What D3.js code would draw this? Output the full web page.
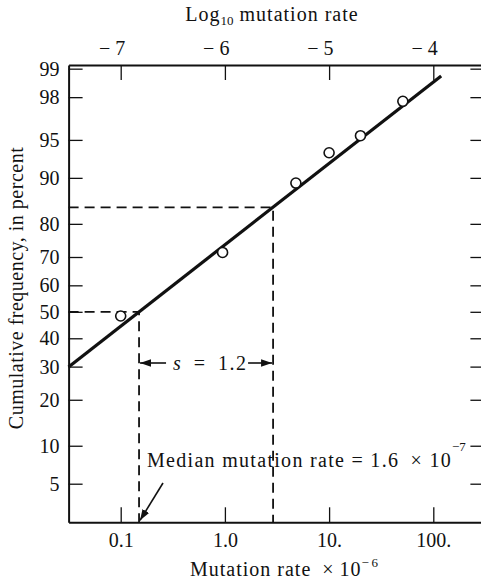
<!DOCTYPE html>
<html>
<head>
<meta charset="utf-8">
<script src="https://cdn.jsdelivr.net/npm/d3@7"></script>
<style>
  body { margin: 0; background: #fff; }
  svg text { font-family: "Liberation Serif", "DejaVu Serif", serif; fill: #111; }
  .axis path, .axis line { stroke: #111; }
</style>
</head>
<body>
<svg id="svg" width="481" height="581"></svg>
<script>
// chart values
const yTicks = [5, 10, 20, 30, 40, 50, 60, 70, 80, 90, 95, 98, 99];
const xTicks = [0.1, 1, 10, 100];
const xTickLabels = ['0.1', '1.0', '10.', '100.'];
const logTicks = [-7, -6, -5, -4];
const logTickLabels = ['\u2212 7', '\u2212 6', '\u2212 5', '\u2212 4'];

// observed points: mutation rate (x 10^-6) and cumulative frequency (%)
const rates = [0.1, 0.95, 4.8, 10, 20, 51];
const cumPct = [48.4, 71.5, 89.1, 93.6, 95.4, 97.8];

// fitted line end points
const fitRate = [0.0316, 119];
const fitPct = [29.9, 98.8];

// median and the +1 s point
const medianRate = 0.15;
const upperRate = 2.9;
const upperPct = 84.13;

// normal quantile (Acklam)
function probit(p) {
  const a = [-39.69683028665376, 220.9460984245205, -275.9285104469687, 138.3577518672690, -30.66479806614716, 2.506628277459239];
  const b = [-54.47609879822406, 161.5858368580409, -155.6989798598866, 66.80131188771972, -13.28068155288572];
  const c = [-0.007784894002430293, -0.3223964580411365, -2.400758277161838, -2.549732539343734, 4.374664141464968, 2.938163982698783];
  const d = [0.007784695709041462, 0.3224671290700398, 2.445134137142996, 3.754408661907416];
  const pl = 0.02425;
  let q, r;
  if (p < pl) {
    q = Math.sqrt(-2 * Math.log(p));
    return (((((c[0]*q+c[1])*q+c[2])*q+c[3])*q+c[4])*q+c[5]) / ((((d[0]*q+d[1])*q+d[2])*q+d[3])*q+1);
  }
  if (p > 1 - pl) {
    q = Math.sqrt(-2 * Math.log(1 - p));
    return -(((((c[0]*q+c[1])*q+c[2])*q+c[3])*q+c[4])*q+c[5]) / ((((d[0]*q+d[1])*q+d[2])*q+d[3])*q+1);
  }
  q = p - 0.5;
  r = q * q;
  return (((((a[0]*r+a[1])*r+a[2])*r+a[3])*r+a[4])*r+a[5])*q / (((((b[0]*r+b[1])*r+b[2])*r+b[3])*r+b[4])*r+1);
}

const plotLeft = 68.6, plotRight = 485.4, plotTop = 65, plotBottom = 522.3;

const xScale = d3.scaleLog().domain([Math.pow(10, -1.5), Math.pow(10, 2.5)]).range([plotLeft, plotRight]);
const logScale = d3.scaleLinear().domain([-7.5, -3.5]).range([plotLeft, plotRight]);
const zScale = d3.scaleLinear().domain([probit(0.022), probit(0.9909)]).range([plotBottom, plotTop]);
const yScale = p => zScale(probit(p / 100));

const svg = d3.select('#svg');

// axes
const axisStyle = g => {
  g.attr('class', 'axis');
  g.select('.domain').attr('stroke-width', 2);
  g.selectAll('.tick line').attr('stroke-width', 1.3);
  g.selectAll('.tick text').attr('font-size', 20).attr('fill', '#111');
};

svg.append('g')
  .attr('transform', `translate(0,${plotTop})`)
  .call(d3.axisTop(logScale).tickValues(logTicks).tickFormat((d, i) => logTickLabels[i])
    .tickSizeInner(-15).tickSizeOuter(0).tickPadding(10))
  .call(axisStyle)
  .call(g => g.selectAll('.tick text').attr('text-anchor', 'end').attr('x', 4));

svg.append('g')
  .attr('transform', `translate(0,${plotBottom})`)
  .call(d3.axisBottom(xScale).tickValues(xTicks).tickFormat((d, i) => xTickLabels[i])
    .tickSizeInner(-15).tickSizeOuter(0).tickPadding(11))
  .call(axisStyle);

svg.append('g')
  .attr('transform', `translate(${plotLeft},0)`)
  .call(d3.axisLeft(zScale).tickValues(yTicks.map(p => probit(p / 100))).tickFormat((d, i) => yTicks[i])
    .tickSizeInner(-14).tickSizeOuter(0).tickPadding(9))
  .call(axisStyle);

svg.append('g')
  .attr('transform', `translate(${plotRight},0)`)
  .call(d3.axisLeft(zScale).tickValues(yTicks.map(p => probit(p / 100))).tickFormat('')
    .tickSizeInner(15).tickSizeOuter(0))
  .call(axisStyle);

// dashed guide lines
const dash = svg.append('g')
  .attr('fill', 'none')
  .attr('stroke', '#111')
  .attr('stroke-width', 1.8)
  .attr('stroke-dasharray', '10,6');

dash.append('path')
  .attr('d', d3.line()([[plotLeft, yScale(50)], [xScale(medianRate), yScale(50)], [xScale(medianRate), plotBottom]]));
dash.append('path')
  .attr('d', d3.line()([[plotLeft, yScale(upperPct)], [xScale(upperRate), yScale(upperPct)], [xScale(upperRate), plotBottom]]));

// fitted line
svg.append('line')
  .attr('x1', xScale(fitRate[0])).attr('y1', yScale(fitPct[0]))
  .attr('x2', xScale(fitRate[1])).attr('y2', yScale(fitPct[1]))
  .attr('stroke', '#111')
  .attr('stroke-width', 3.2);

// points
svg.append('g').selectAll('circle')
  .data(rates)
  .enter()
  .append('circle')
  .attr('cx', d => xScale(d))
  .attr('cy', (d, i) => yScale(cumPct[i]))
  .attr('r', 5)
  .attr('fill', '#fff')
  .attr('stroke', '#111')
  .attr('stroke-width', 1.6);

// arrowhead
svg.append('defs').append('marker')
  .attr('id', 'arrow')
  .attr('viewBox', '0 0 10 10')
  .attr('refX', 10).attr('refY', 5)
  .attr('markerWidth', 11).attr('markerHeight', 11)
  .attr('markerUnits', 'userSpaceOnUse')
  .attr('orient', 'auto')
  .append('path')
  .attr('d', 'M0,1.5L10,5L0,8.5Z')
  .attr('fill', '#111');

// s = 1.2 annotation
const sy = 363;
const xm = xScale(medianRate), xu = xScale(upperRate);
svg.append('line')
  .attr('x1', xm + 27).attr('y1', sy).attr('x2', xm + 1).attr('y2', sy)
  .attr('stroke', '#111').attr('stroke-width', 1.6).attr('marker-end', 'url(#arrow)');
svg.append('line')
  .attr('x1', xu - 25).attr('y1', sy).attr('x2', xu - 1).attr('y2', sy)
  .attr('stroke', '#111').attr('stroke-width', 1.6).attr('marker-end', 'url(#arrow)');
const sText = svg.append('text')
  .attr('x', xm + 34).attr('y', sy + 7)
  .attr('font-size', 20)
  .attr('letter-spacing', 1.5);
sText.append('tspan').attr('font-style', 'italic').text('s');
sText.append('tspan').text('\u2002=\u20021.2');

// median annotation
const mText = svg.append('text')
  .attr('x', 147).attr('y', 467)
  .attr('font-size', 20)
  .attr('letter-spacing', 1.3);
mText.append('tspan').text('Median mutation rate = 1.6\u2002\u00d7 10');
mText.append('tspan').attr('font-size', 13).attr('letter-spacing', 0).attr('dy', -16).text('\u22127');

svg.append('line')
  .attr('x1', 163).attr('y1', 483).attr('x2', xm + 1).attr('y2', plotBottom - 2)
  .attr('stroke', '#111').attr('stroke-width', 1.6).attr('marker-end', 'url(#arrow)');

// axis titles
const tTitle = svg.append('text')
  .attr('x', 272).attr('y', 21)
  .attr('text-anchor', 'middle')
  .attr('font-size', 20)
  .attr('letter-spacing', 1);
tTitle.append('tspan').text('Log');
tTitle.append('tspan').attr('font-size', 13).attr('letter-spacing', 0).attr('dy', 4).text('10');
tTitle.append('tspan').attr('dy', -4).text(' mutation rate');

const bTitle = svg.append('text')
  .attr('x', 284).attr('y', 576)
  .attr('text-anchor', 'middle')
  .attr('font-size', 20)
  .attr('letter-spacing', 1);
bTitle.append('tspan').text('Mutation rate\u2002\u00d7\u200910');
bTitle.append('tspan').attr('font-size', 13).attr('letter-spacing', 0).attr('dy', -9).text('\u2212\u20096');

svg.append('text')
  .attr('transform', 'translate(23,288) rotate(-90)')
  .attr('text-anchor', 'middle')
  .attr('font-size', 20)
  .attr('letter-spacing', 0.5)
  .text('Cumulative frequency, in percent');
</script>
</body>
</html>
